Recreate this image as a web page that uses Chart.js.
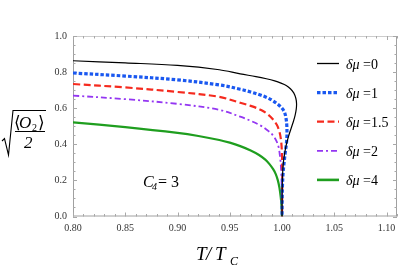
<!DOCTYPE html>
<html>
<head>
<meta charset="utf-8">
<script src="https://cdn.jsdelivr.net/npm/chart.js@4.4.1/dist/chart.umd.min.js"></script>
<style>
  html, body { margin: 0; padding: 0; background: #fff; }
  canvas { display: block; }
</style>
</head>
<body>
<canvas id="op-chart" width="415" height="277"></canvas>
<script>
// T/Tc and sqrt(<O2>/2), one pair of arrays per delta-mu
const muLabels = ['0', '1', '1.5', '2', '4'];

const T0 = [0.80, 0.85, 0.90, 0.94, 0.96, 0.975, 0.985, 0.993, 0.999, 1.004, 1.008, 1.0112, 1.0132, 1.0139, 1.0136, 1.0125, 1.0108, 1.0085, 1.006, 1.004, 1.0025, 1.0013, 1.0005, 1.0001, 1.0];
const V0 = [0.863, 0.851, 0.837, 0.813, 0.790, 0.775, 0.763, 0.751, 0.739, 0.726, 0.708, 0.685, 0.655, 0.625, 0.595, 0.560, 0.525, 0.485, 0.440, 0.395, 0.350, 0.300, 0.230, 0.130, 0.0];

const T1 = [0.80, 0.85, 0.90, 0.94, 0.96, 0.97, 0.98, 0.986, 0.991, 0.995, 0.999, 1.0022, 1.0038, 1.0046, 1.0047, 1.0042, 1.0032, 1.002, 1.001, 1.0004, 1.0001, 1.0];
const V1 = [0.795, 0.778, 0.757, 0.729, 0.705, 0.690, 0.672, 0.658, 0.642, 0.626, 0.606, 0.580, 0.545, 0.500, 0.450, 0.405, 0.360, 0.300, 0.240, 0.170, 0.090, 0.0];

const T2 = [0.80, 0.85, 0.90, 0.94, 0.96, 0.97, 0.98, 0.986, 0.991, 0.995, 0.9975, 0.999, 0.9998, 1.0002, 1.0002, 1.0001, 1.0];
const V2 = [0.734, 0.715, 0.690, 0.663, 0.630, 0.613, 0.590, 0.568, 0.540, 0.508, 0.470, 0.425, 0.365, 0.290, 0.200, 0.100, 0.0];

const T3 = [0.80, 0.85, 0.90, 0.94, 0.96, 0.97, 0.98, 0.986, 0.9905, 0.994, 0.9966, 0.998, 0.999, 0.9996, 0.9999, 1.0];
const V3 = [0.670, 0.650, 0.624, 0.591, 0.553, 0.530, 0.502, 0.478, 0.455, 0.426, 0.387, 0.335, 0.270, 0.190, 0.100, 0.0];

const T4 = [0.80, 0.85, 0.90, 0.92, 0.94, 0.95, 0.96, 0.97, 0.978, 0.984, 0.988, 0.9915, 0.994, 0.996, 0.9975, 0.9987, 0.9995, 1.0];
const V4 = [0.522, 0.495, 0.463, 0.446, 0.424, 0.409, 0.390, 0.366, 0.341, 0.315, 0.290, 0.262, 0.235, 0.200, 0.160, 0.110, 0.060, 0.0];

const xTicks = [0.80, 0.85, 0.90, 0.95, 1.00, 1.05, 1.10];
const yTicks = [0.0, 0.2, 0.4, 0.6, 0.8, 1.0];

const pts = (T, V) => T.map((t, i) => ({ x: t, y: V[i] }));

const SERIF = '"Liberation Serif", "DejaVu Serif", serif';

function line(ctx, x1, y1, x2, y2) {
  ctx.beginPath();
  ctx.moveTo(x1, y1);
  ctx.lineTo(x2, y2);
  ctx.stroke();
}

// Mathematica style frame with inward ticks
const framePlugin = {
  id: 'frame',
  beforeDatasetsDraw(chart) {
    const ctx = chart.ctx;
    const { left, right, top, bottom } = chart.chartArea;
    const xs = chart.scales.x, ys = chart.scales.y;
    ctx.save();
    ctx.lineWidth = 1;
    ctx.strokeStyle = '#cccccc';
    line(ctx, left, top + 0.5, right, top + 0.5);
    ctx.strokeStyle = '#a0a0a0';
    line(ctx, right - 0.5, top, right - 0.5, bottom);
    line(ctx, left + 0.5, top, left + 0.5, bottom);
    line(ctx, left, bottom - 0.5, right, bottom - 0.5);

    ctx.strokeStyle = '#a8a8a8';
    for (let k = 80; k <= 111; k++) {
      const px = Math.round(xs.getPixelForValue(k / 100)) + 0.5;
      const len = k % 5 === 0 ? 4 : 2.5;
      line(ctx, px, bottom, px, bottom - len);
      line(ctx, px, top, px, top + len);
    }
    for (let k = 0; k <= 20; k++) {
      const py = Math.round(ys.getPixelForValue(k / 20)) + 0.5;
      const len = k % 4 === 0 ? 4 : 2.5;
      line(ctx, left, py, left + len, py);
      line(ctx, right, py, right - len, py);
    }
    ctx.restore();
  },
  afterDraw(chart) {
    const ctx = chart.ctx;
    ctx.save();
    ctx.fillStyle = '#000';
    ctx.strokeStyle = '#000';
    ctx.textBaseline = 'alphabetic';

    // legend
    chart.data.datasets.forEach((ds, i) => {
      const y = 63.5 + i * 29.1;
      ctx.save();
      ctx.strokeStyle = ds.borderColor;
      ctx.lineWidth = ds.legendWidth || ds.borderWidth;
      ctx.setLineDash(ds.borderDash || []);
      ctx.lineCap = 'butt';
      line(ctx, 317, y, 339, y);
      ctx.restore();
      ctx.font = 'italic 14px ' + SERIF;
      ctx.fillText('δμ', 346, y + 5);
      const w = ctx.measureText('δμ').width;
      ctx.font = '14px ' + SERIF;
      ctx.fillText(' =' + muLabels[i], 346 + w, y + 5);
    });

    // C4 = 3
    ctx.font = 'italic 16px ' + SERIF;
    ctx.fillText('C', 143, 187);
    ctx.font = 'italic 10px ' + SERIF;
    ctx.fillText('4', 152, 190);
    ctx.font = '16px ' + SERIF;
    ctx.fillText('= 3', 158, 187);

    // x title T / Tc
    ctx.font = 'italic 19px ' + SERIF;
    ctx.fillText('T', 196, 260);
    ctx.fillText('/', 206, 260);
    ctx.fillText('T', 215, 260);
    ctx.font = 'italic 12px ' + SERIF;
    ctx.fillText('C', 230, 265);

    // y title sqrt(<O2>/2)
    ctx.font = '17px ' + SERIF;
    ctx.fillText('⟨', 14, 128);
    ctx.font = 'italic 17px ' + SERIF;
    ctx.fillText('O', 19, 128);
    ctx.font = '10px ' + SERIF;
    ctx.fillText('2', 32, 131);
    ctx.font = '17px ' + SERIF;
    ctx.fillText('⟩', 38, 128);
    ctx.font = 'italic 17px ' + SERIF;
    ctx.fillText('2', 24, 148);
    ctx.lineWidth = 1;
    line(ctx, 15, 131.5, 45, 131.5);
    ctx.lineWidth = 1.1;
    ctx.beginPath();
    ctx.moveTo(2, 141);
    ctx.lineTo(4.5, 138.5);
    ctx.lineTo(8.5, 155);
    ctx.lineTo(13, 110.5);
    ctx.lineTo(46, 110.5);
    ctx.stroke();
    ctx.restore();
  }
};

new Chart(document.getElementById('op-chart'), {
  type: 'scatter',
  data: {
    datasets: [
      { label: 'δμ =' + muLabels[0], data: pts(T0, V0), borderColor: '#000000', borderWidth: 1.2, legendWidth: 1.3 },
      { label: 'δμ =' + muLabels[1], data: pts(T1, V1), borderColor: '#1a58f0', borderWidth: 3.2, borderDash: [3.5, 2] },
      { label: 'δμ =' + muLabels[2], data: pts(T2, V2), borderColor: '#f52a1e', borderWidth: 2.2, borderDash: [7, 3.5] },
      { label: 'δμ =' + muLabels[3], data: pts(T3, V3), borderColor: '#9436f2', borderWidth: 1.8, borderDash: [6, 3, 2, 3] },
      { label: 'δμ =' + muLabels[4], data: pts(T4, V4), borderColor: '#1f9e1f', borderWidth: 2.2, legendWidth: 2.6 }
    ].map(ds => Object.assign({ showLine: true, pointRadius: 0, tension: 0.35, fill: false }, ds))
  },
  options: {
    responsive: false,
    animation: false,
    devicePixelRatio: 1,
    layout: { padding: { left: 0, right: 18, top: 36, bottom: 0 } },
    plugins: { legend: { display: false }, tooltip: { enabled: false } },
    scales: {
      x: {
        type: 'linear',
        min: 0.8,
        max: 1.11,
        grid: { display: false, drawTicks: false },
        border: { display: false },
        afterBuildTicks: s => { s.ticks = xTicks.map(v => ({ value: v })); },
        afterFit: s => { s.height = 60.5; },
        ticks: {
          padding: 6,
          maxRotation: 0,
          autoSkip: false,
          color: '#333',
          font: { family: SERIF, size: 10 },
          callback: v => v.toFixed(2)
        }
      },
      y: {
        type: 'linear',
        min: 0,
        max: 1,
        grid: { display: false, drawTicks: false },
        border: { display: false },
        afterBuildTicks: s => { s.ticks = yTicks.map(v => ({ value: v })); },
        afterFit: s => { s.width = 73; },
        ticks: {
          padding: 6,
          color: '#333',
          font: { family: SERIF, size: 10 },
          callback: v => v.toFixed(1)
        }
      }
    }
  },
  plugins: [framePlugin]
});
</script>
</body>
</html>
